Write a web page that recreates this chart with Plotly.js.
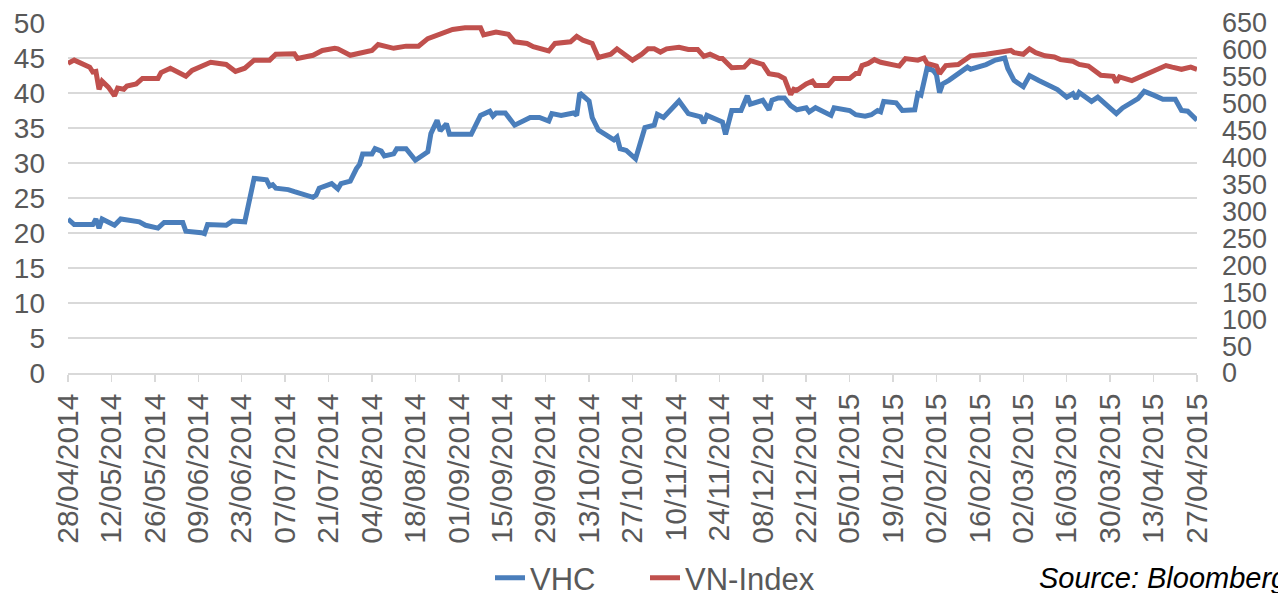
<!DOCTYPE html>
<html>
<head>
<meta charset="utf-8">
<script src="https://cdn.plot.ly/plotly-3.0.1.min.js"></script>
<style>
html, body { margin: 0; padding: 0; background: #ffffff; }
#chart { width: 1278px; height: 593px; }
</style>
</head>
<body>
<div id="chart"></div>
<script>
// ---- Data ----
const vhcDates = [
  '2014-04-28','2014-04-30','2014-05-06','2014-05-07','2014-05-08','2014-05-09','2014-05-13','2014-05-15',
  '2014-05-21','2014-05-23','2014-05-27','2014-05-29','2014-06-04','2014-06-05','2014-06-10','2014-06-11',
  '2014-06-12','2014-06-18','2014-06-20','2014-06-23','2014-06-24','2014-06-27','2014-07-01','2014-07-02',
  '2014-07-03','2014-07-04','2014-07-08','2014-07-10','2014-07-16','2014-07-17','2014-07-18','2014-07-22',
  '2014-07-24','2014-07-25','2014-07-28','2014-07-30','2014-07-31','2014-08-01','2014-08-04','2014-08-05',
  '2014-08-07','2014-08-08','2014-08-11','2014-08-12','2014-08-15','2014-08-18','2014-08-21','2014-08-22',
  '2014-08-23','2014-08-25','2014-08-26','2014-08-28','2014-08-29','2014-09-05','2014-09-08','2014-09-11',
  '2014-09-12','2014-09-13','2014-09-16','2014-09-19','2014-09-24','2014-09-27','2014-09-30','2014-10-01',
  '2014-10-04','2014-10-08','2014-10-09','2014-10-10','2014-10-13','2014-10-14','2014-10-16','2014-10-21',
  '2014-10-22','2014-10-23','2014-10-25','2014-10-28','2014-10-31','2014-11-03','2014-11-04','2014-11-06',
  '2014-11-11','2014-11-14','2014-11-18','2014-11-19','2014-11-20','2014-11-25','2014-11-26','2014-11-28',
  '2014-12-01','2014-12-03','2014-12-04','2014-12-08','2014-12-10','2014-12-11','2014-12-13','2014-12-15',
  '2014-12-17','2014-12-19','2014-12-22','2014-12-23','2014-12-25','2014-12-30','2014-12-31','2015-01-05',
  '2015-01-07','2015-01-10','2015-01-12','2015-01-14','2015-01-15','2015-01-16','2015-01-20','2015-01-22',
  '2015-01-26','2015-01-27','2015-01-28','2015-01-30','2015-02-01','2015-02-02','2015-02-03','2015-02-04',
  '2015-02-06','2015-02-12','2015-02-13','2015-02-18','2015-02-21','2015-02-24','2015-02-25','2015-02-27',
  '2015-03-02','2015-03-04','2015-03-07','2015-03-10','2015-03-13','2015-03-16','2015-03-18','2015-03-19',
  '2015-03-20','2015-03-24','2015-03-26','2015-04-01','2015-04-03','2015-04-08','2015-04-10','2015-04-13',
  '2015-04-16','2015-04-20','2015-04-22','2015-04-24','2015-04-27'
];
const vhcValues = [
  22.0,21.2,21.2,22.0,20.7,22.0,21.1,22.0,
  21.6,21.1,20.7,21.5,21.5,20.25,20.05,19.9,
  21.2,21.1,21.7,21.7,21.6,27.8,27.6,26.7,
  26.9,26.4,26.2,25.9,25.1,25.4,26.4,27.05,
  26.3,27.05,27.4,29.2,29.8,31.3,31.3,32.05,
  31.7,31.0,31.3,32.05,32.05,30.4,31.3,31.6,
  34.2,36.1,34.6,35.6,34.1,34.1,36.8,37.4,
  36.7,37.15,37.15,35.4,36.5,36.5,36.0,37.05,
  36.8,37.15,36.8,40.0,38.86,36.5,34.7,33.3,
  33.7,32.05,31.8,30.6,35.06,35.4,36.96,36.5,
  38.86,37.05,36.6,35.7,36.8,35.86,34.1,37.5,
  37.5,39.6,38.4,38.96,37.6,38.96,39.3,39.3,
  38.2,37.6,37.9,37.3,37.9,36.8,37.9,37.5,
  36.9,36.7,36.9,37.5,37.3,38.8,38.6,37.5,
  37.6,39.9,39.7,43.6,43.2,42.6,40.06,41.3,
  41.8,43.7,43.4,44.06,44.7,45.0,43.5,41.8,
  40.9,42.5,41.8,41.1,40.5,39.4,39.9,39.2,
  40.06,38.8,39.4,37.06,37.86,39.2,40.24,39.7,
  39.1,39.1,37.5,37.4,36.1
];

const vnDates = [
  '2014-04-28','2014-04-30','2014-05-05','2014-05-06','2014-05-07','2014-05-08','2014-05-09','2014-05-11',
  '2014-05-13','2014-05-14','2014-05-16','2014-05-17','2014-05-20','2014-05-22','2014-05-27','2014-05-28',
  '2014-05-31','2014-06-03','2014-06-05','2014-06-07','2014-06-12','2014-06-13','2014-06-18','2014-06-21',
  '2014-06-24','2014-06-27','2014-07-02','2014-07-04','2014-07-10','2014-07-11','2014-07-16','2014-07-19',
  '2014-07-23','2014-07-24','2014-07-28','2014-07-30','2014-08-04','2014-08-06','2014-08-11','2014-08-15',
  '2014-08-19','2014-08-22','2014-08-27','2014-08-30','2014-09-03','2014-09-08','2014-09-09','2014-09-13',
  '2014-09-17','2014-09-19','2014-09-23','2014-09-25','2014-09-30','2014-10-02','2014-10-07','2014-10-09',
  '2014-10-11','2014-10-14','2014-10-16','2014-10-20','2014-10-22','2014-10-24','2014-10-27','2014-10-30',
  '2014-11-01','2014-11-03','2014-11-05','2014-11-07','2014-11-11','2014-11-14','2014-11-17','2014-11-19',
  '2014-11-21','2014-11-24','2014-11-25','2014-11-28','2014-12-02','2014-12-04','2014-12-08','2014-12-10',
  '2014-12-11','2014-12-13','2014-12-15','2014-12-17','2014-12-18','2014-12-19','2014-12-22','2014-12-24',
  '2014-12-25','2014-12-29','2014-12-31','2015-01-05','2015-01-07','2015-01-08','2015-01-09','2015-01-11',
  '2015-01-13','2015-01-15','2015-01-21','2015-01-23','2015-01-27','2015-01-29','2015-01-30','2015-02-02',
  '2015-02-03','2015-02-05','2015-02-09','2015-02-13','2015-02-18','2015-02-24','2015-02-26','2015-02-27',
  '2015-03-02','2015-03-04','2015-03-06','2015-03-09','2015-03-12','2015-03-14','2015-03-18','2015-03-20',
  '2015-03-23','2015-03-27','2015-03-31','2015-04-01','2015-04-02','2015-04-06','2015-04-09','2015-04-13',
  '2015-04-17','2015-04-19','2015-04-22','2015-04-25','2015-04-27'
];
const vnValues = [
  575,581,568,559,560,527,542,531,
  515,529,527,533,537,547,547,558,
  566,558,551,562,573,577,573,560,
  566,581,581,592,593,584,590,599,
  603,602,590,593,599,610,603,607,
  607,621,631,638,641,641,628,633,
  629,615,612,606,598,612,615,625,
  618,612,586,592,602,594,581,592,
  602,602,596,602,605,601,601,588,
  592,584,584,567,568,580,573,556,
  555,553,547,517,527,525,537,542,
  534,534,547,547,556,556,571,575,
  582,577,570,584,581,585,575,570,
  556,571,573,589,592,597,599,595,
  592,602,595,589,587,582,579,573,
  570,553,551,540,550,543,551,562,
  571,568,564,568,564
];

const tickDates = [
  '2014-04-28','2014-05-12','2014-05-26','2014-06-09','2014-06-23','2014-07-07','2014-07-21',
  '2014-08-04','2014-08-18','2014-09-01','2014-09-15','2014-09-29','2014-10-13','2014-10-27',
  '2014-11-10','2014-11-24','2014-12-08','2014-12-22','2015-01-05','2015-01-19','2015-02-02',
  '2015-02-16','2015-03-02','2015-03-16','2015-03-30','2015-04-13','2015-04-27'
];
const tickLabels = [
  '28/04/2014','12/05/2014','26/05/2014','09/06/2014','23/06/2014','07/07/2014','21/07/2014',
  '04/08/2014','18/08/2014','01/09/2014','15/09/2014','29/09/2014','13/10/2014','27/10/2014',
  '10/11/2014','24/11/2014','08/12/2014','22/12/2014','05/01/2015','19/01/2015','02/02/2015',
  '16/02/2015','02/03/2015','16/03/2015','30/03/2015','13/04/2015','27/04/2015'
];
const seriesNames = ['VHC', 'VN-Index'];
const sourceText = 'Source: Bloomberg';

// ---- Chart ----
const FONT = '"Liberation Sans", Arial, sans-serif';
const GREY = '#595959';

const traces = [
  { x: vhcDates, y: vhcValues, name: seriesNames[0], type: 'scatter', mode: 'lines',
    line: { color: '#4a7ebb', width: 5 }, yaxis: 'y', legend: 'legend' },
  { x: vnDates, y: vnValues, name: seriesNames[1], type: 'scatter', mode: 'lines',
    line: { color: '#c0504d', width: 5 }, yaxis: 'y2', legend: 'legend2' }
];

const legendBase = {
  orientation: 'h', xref: 'container', yref: 'container', xanchor: 'left',
  y: 0.025, yanchor: 'middle',
  font: { family: FONT, size: 31, color: GREY }, bgcolor: 'rgba(0,0,0,0)'
};

const layout = {
  width: 1278, height: 593,
  margin: { l: 68, r: 81, t: 23, b: 220, pad: 0, autoexpand: false },
  paper_bgcolor: '#ffffff', plot_bgcolor: '#ffffff',
  font: { family: FONT, color: GREY, size: 28 },
  showlegend: true,
  legend: Object.assign({}, legendBase, { x: 490 / 1278 }),
  legend2: Object.assign({}, legendBase, { x: 645 / 1278 }),
  xaxis: {
    type: 'date', range: ['2014-04-28', '2015-04-27'], automargin: false,
    tickmode: 'array', tickvals: tickDates, ticktext: tickLabels,
    tickangle: -90, tickfont: { family: FONT, size: 30, color: GREY },
    ticks: 'outside', ticklen: 7, tickwidth: 1.5, tickcolor: '#d9d9d9',
    showline: true, linecolor: '#d9d9d9', linewidth: 1.5,
    showgrid: false, zeroline: false, fixedrange: true
  },
  yaxis: {
    range: [0, 50], dtick: 5, tick0: 0, automargin: false,
    tickfont: { family: FONT, size: 28, color: GREY },
    showgrid: true, gridcolor: '#d9d9d9', gridwidth: 1.5,
    zeroline: false, showline: false, ticks: '', ticklabelstandoff: 22
  },
  yaxis2: {
    range: [0, 650], dtick: 50, tick0: 0, overlaying: 'y', side: 'right', automargin: false,
    tickfont: { family: FONT, size: 27, color: GREY },
    showgrid: false, zeroline: false, showline: false, ticks: '', ticklabelstandoff: 24
  },
  annotations: [
    { text: sourceText, xref: 'paper', yref: 'paper', x: (1037 - 68) / 1129, y: -0.585,
      xanchor: 'left', yanchor: 'middle', showarrow: false,
      font: { family: FONT, size: 29, color: '#000000', style: 'italic' } }
  ]
};

Plotly.newPlot('chart', traces, layout, { displayModeBar: false, staticPlot: true });
</script>
</body>
</html>
